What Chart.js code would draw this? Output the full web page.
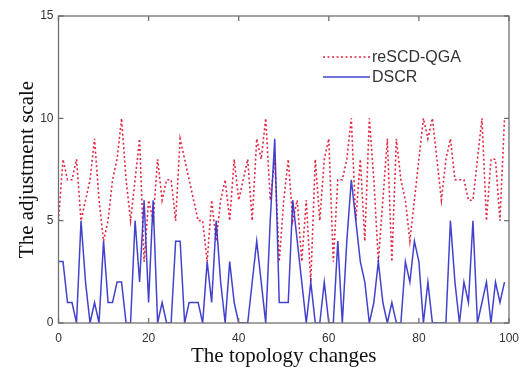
<!DOCTYPE html>
<html>
<head>
<meta charset="utf-8">
<script src="https://cdn.jsdelivr.net/npm/chart.js@4.4.0/dist/chart.umd.min.js"></script>
<style>
  html, body { margin: 0; padding: 0; background: #fff; }
  #wrap { width: 527px; height: 370px; }
</style>
</head>
<body>
<div id="wrap"><canvas id="chart"></canvas></div>
<script>
/* global Chart */

// one value per topology change (x = 0..99)
const rescdQga = [
  5, 8, 7, 7, 8, 5, 6, 7, 9, 6,
  4, 5, 7, 8, 10, 7, 5, 7, 9, 3,
  6, 5, 8, 6, 7, 7, 5, 9, 8, 7,
  6, 5, 5, 3, 6, 4, 6, 7, 5, 8,
  6, 7, 8, 5, 9, 8, 10, 6, 8, 3,
  6, 8, 5, 6, 3, 6, 2, 8, 5, 8,
  9, 3, 7, 7, 8, 10, 5, 8, 4, 10,
  7, 3, 6, 9, 3, 9, 7, 6, 4, 6,
  8, 10, 9, 10, 8, 6, 8, 9, 7, 7,
  7, 6, 6, 8, 10, 5, 8, 8, 5, 10
];

const dscr = [
  3, 3, 1, 1, 0, 5, 2, 0, 1, 0,
  4, 1, 1, 2, 2, 0, 0, 5, 2, 6,
  1, 6, 0, 1, 0, 0, 4, 4, 0, 1,
  1, 1, 0, 3, 1, 5, 2, 0, 3, 1,
  0, 0, 0, 2, 4, 2, 0, 5, 9, 1,
  1, 1, 6, 4, 2, 0, 2, 0, 0, 2,
  0, 0, 4, 0, 4, 7, 5, 3, 2, 0,
  1, 3, 1, 0, 1, 0, 0, 3, 2, 4,
  3, 0, 2, 0, 0, 0, 0, 5, 2, 0,
  2, 1, 5, 0, 1, 2, 0, 2, 1, 2
];

const xRange = [0, 100];
const yRange = [0, 15];
const xStep = 20;
const yStep = 5;

const RED = "#e4253f";
const BLUE = "rgba(45, 45, 200, 0.9)";
const AXIS = "#707070";

function toPoints(values) {
  return values.map((v, i) => ({ x: i, y: v }));
}

// MATLAB-like box with inward ticks on all four sides
const boxTicks = {
  id: "boxTicks",
  afterDatasetsDraw(chart) {
    const { ctx, chartArea: a, scales } = chart;
    ctx.save();
    ctx.strokeStyle = AXIS;
    ctx.lineWidth = 1.3;
    ctx.strokeRect(a.left, a.top, a.right - a.left, a.bottom - a.top);
    ctx.beginPath();
    scales.x.ticks.forEach((t) => {
      const px = scales.x.getPixelForValue(t.value);
      ctx.moveTo(px, a.bottom);
      ctx.lineTo(px, a.bottom - 5);
      ctx.moveTo(px, a.top);
      ctx.lineTo(px, a.top + 5);
    });
    scales.y.ticks.forEach((t) => {
      const py = scales.y.getPixelForValue(t.value);
      ctx.moveTo(a.left, py);
      ctx.lineTo(a.left + 5, py);
      ctx.moveTo(a.right, py);
      ctx.lineTo(a.right - 5, py);
    });
    ctx.stroke();
    ctx.restore();
  }
};

// legend sits inside the plot, top right
const innerLegend = {
  id: "innerLegend",
  afterDraw(chart) {
    const { ctx } = chart;
    const rows = chart.data.datasets.slice().sort((a, b) => b.order - a.order);
    ctx.save();
    ctx.font = "16px 'Liberation Sans', Arial, sans-serif";
    ctx.textBaseline = "middle";
    rows.forEach((ds, i) => {
      const y = 57 + i * 20;
      ctx.beginPath();
      ctx.strokeStyle = ds.borderColor;
      ctx.lineWidth = ds.borderWidth;
      ctx.setLineDash(ds.borderDash || []);
      ctx.moveTo(323, y);
      ctx.lineTo(370, y);
      ctx.stroke();
      ctx.setLineDash([]);
      ctx.fillStyle = "#333";
      ctx.fillText(ds.label, 372, y + 1);
    });
    ctx.restore();
  }
};

new Chart(document.getElementById("chart"), {
  type: "line",
  data: {
    datasets: [
      {
        label: "DSCR",
        data: toPoints(dscr),
        borderColor: BLUE,
        borderWidth: 1.5,
        pointRadius: 0,
        tension: 0,
        order: 0
      },
      {
        label: "reSCD-QGA",
        data: toPoints(rescdQga),
        borderColor: RED,
        borderWidth: 1.6,
        borderDash: [2, 2.5],
        pointRadius: 0,
        tension: 0,
        order: 1
      }
    ]
  },
  options: {
    responsive: true,
    maintainAspectRatio: false,
    animation: false,
    layout: { padding: { top: 16, right: 17, bottom: 0, left: 0 } },
    plugins: { legend: { display: false }, tooltip: { enabled: false } },
    scales: {
      x: {
        type: "linear",
        min: xRange[0],
        max: xRange[1],
        grid: { display: false, drawTicks: false },
        border: { display: false },
        ticks: { stepSize: xStep, color: "#333", padding: 8, maxRotation: 0,
          font: { family: "'Liberation Sans', Arial, sans-serif", size: 12 } },
        title: {
          display: true,
          text: "The topology changes",
          color: "#111",
          padding: { top: 0, bottom: 1 },
          font: { family: "'Liberation Serif', 'Times New Roman', serif", size: 21 }
        },
        afterFit: (s) => { s.height = 47; }
      },
      y: {
        min: yRange[0],
        max: yRange[1],
        grid: { display: false, drawTicks: false },
        border: { display: false },
        ticks: { stepSize: yStep, color: "#333", padding: 5,
          font: { family: "'Liberation Sans', Arial, sans-serif", size: 12 } },
        title: {
          display: true,
          text: "The adjustment scale",
          color: "#111",
          padding: { top: 15, bottom: 0 },
          font: { family: "'Liberation Serif', 'Times New Roman', serif", size: 21 }
        },
        afterFit: (s) => { s.width = 58.5; }
      }
    }
  },
  plugins: [boxTicks, innerLegend]
});
</script>
</body>
</html>
